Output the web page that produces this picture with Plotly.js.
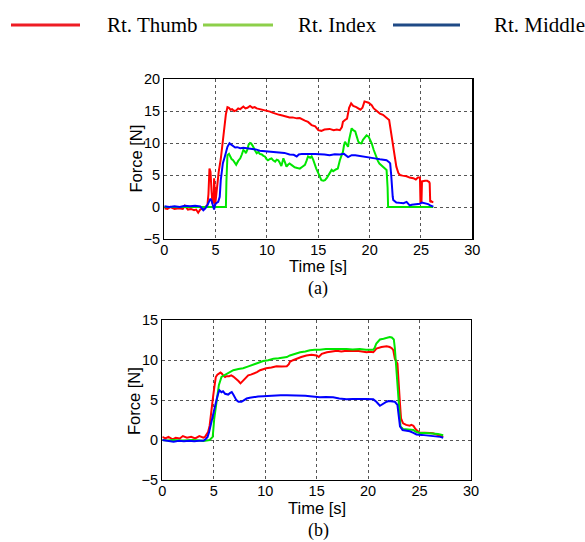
<!DOCTYPE html>
<html>
<head>
<meta charset="utf-8">
<script src="https://cdn.plot.ly/plotly-3.0.1.min.js"></script>
<style>html,body{margin:0;padding:0;background:#fff;}#chart{width:585px;height:542px;}</style>
</head>
<body>
<div id="chart"></div>
<script>
// ---------- data: [time (s), force (N)] ----------
var seriesNames = ["Rt. Thumb", "Rt. Index", "Rt. Middle"];
var panelLabels = ["(a)", "(b)"];
var xTitle = "Time [s]";
var yTitle = "Force [N]";
var xTicks = [0, 5, 10, 15, 20, 25, 30];
var yTicksA = [-5, 0, 5, 10, 15, 20];
var yTicksB = [-5, 0, 5, 10, 15];

var thumbA = [[0,-0.2],[0.3,-0.3],[0.6,0.0],[1.0,-0.3],[1.4,-0.2],[1.8,-0.3],[2.0,0.2],[2.3,-0.4],[2.6,-0.3],[2.9,-0.5],[3.1,-0.4],[3.3,-0.9],[3.5,-0.4],[3.8,-0.2],[4.0,0.0],[4.2,0.3],[4.3,2.0],[4.4,6.0],[4.5,5.5],[4.6,2.5],[4.7,0.5],[4.8,1.0],[4.85,4.5],[4.9,3.0],[4.95,0.2],[5.0,1.0],[5.1,3.0],[5.3,5.5],[5.5,7.5],[5.75,11.3],[6.0,14.5],[6.15,15.6],[6.3,15.5],[6.45,15.2],[6.6,15.3],[6.8,15.0],[7.0,15.1],[7.2,15.4],[7.4,15.3],[7.7,15.7],[7.9,15.4],[8.1,15.5],[8.35,15.8],[8.6,15.5],[8.8,15.6],[9.0,15.4],[9.3,15.3],[9.6,15.2],[10.0,15.05],[10.3,14.9],[10.6,14.7],[10.9,14.5],[11.2,14.4],[11.5,14.3],[11.9,14.1],[12.2,14.0],[12.5,14.0],[12.9,13.85],[13.2,13.9],[13.5,13.6],[13.7,13.5],[14.0,13.3],[14.35,12.8],[14.7,12.6],[15.0,12.0],[15.3,11.9],[15.6,12.1],[16.1,12.2],[16.5,12.0],[16.8,12.1],[17.1,12.0],[17.3,12.5],[17.4,13.3],[17.6,13.6],[17.8,13.8],[18.0,15.5],[18.2,16.2],[18.4,15.8],[18.7,15.6],[19.1,15.2],[19.3,15.5],[19.5,16.5],[19.7,16.4],[19.9,16.3],[20.2,15.9],[20.4,15.4],[20.7,15.0],[21.0,14.6],[21.3,14.4],[21.65,14.0],[21.9,13.6],[22.0,12.55],[22.15,11.0],[22.3,9.4],[22.45,7.5],[22.6,6.3],[22.8,5.3],[22.95,5.0],[23.2,4.9],[23.6,4.8],[23.9,4.6],[24.25,4.5],[24.5,4.3],[24.7,4.6],[24.9,4.6],[24.95,0.8],[25.05,0.8],[25.1,4.0],[25.4,4.1],[25.6,4.1],[25.8,3.9],[25.85,3.7],[25.9,0.8],[26.0,0.9],[26.2,0.7]];
var indexA = [[0,0],[6.0,0],[6.05,4],[6.15,8.1],[6.3,8.3],[6.4,7.9],[6.55,7.5],[6.7,7.3],[6.85,7.0],[7.0,6.6],[7.2,7.2],[7.4,7.6],[7.55,8.2],[7.7,8.9],[7.85,8.7],[7.95,8.4],[8.1,9.0],[8.2,9.7],[8.35,10.0],[8.45,9.95],[8.6,9.6],[8.7,9.2],[8.85,8.8],[9.0,8.4],[9.15,8.6],[9.3,8.3],[9.5,8.2],[9.65,8.0],[9.8,7.9],[9.95,7.5],[10.1,7.3],[10.3,7.5],[10.45,7.6],[10.6,7.3],[10.8,7.1],[10.95,7.4],[11.1,7.3],[11.25,6.9],[11.4,6.4],[11.5,7.0],[11.6,7.6],[11.75,7.0],[11.9,6.3],[12.05,6.6],[12.2,6.8],[12.45,6.5],[12.7,6.2],[12.95,6.1],[13.2,6.0],[13.45,6.3],[13.7,6.6],[13.85,7.2],[14.0,7.9],[14.2,7.7],[14.35,7.9],[14.5,7.4],[14.6,6.8],[14.8,6.0],[15.0,5.3],[15.15,4.7],[15.3,4.2],[15.5,4.1],[15.65,4.2],[15.85,4.6],[16.0,5.0],[16.15,5.5],[16.3,5.8],[16.45,5.6],[16.6,5.8],[16.75,5.9],[16.9,6.0],[17.0,6.8],[17.1,7.3],[17.25,8.0],[17.4,8.6],[17.5,9.6],[17.6,10.2],[17.75,9.8],[17.9,9.4],[18.0,10.5],[18.1,11.25],[18.25,12.3],[18.4,12.0],[18.6,11.8],[18.75,11.0],[18.9,10.2],[19.05,10.0],[19.2,9.95],[19.35,10.5],[19.55,11.0],[19.7,11.2],[19.9,11.0],[20.05,10.5],[20.2,9.95],[20.4,8.9],[20.6,7.9],[20.8,7.2],[20.95,6.8],[21.1,6.6],[21.3,6.3],[21.5,6.0],[21.65,5.8],[21.75,3.0],[21.8,0],[26.2,0]];
var middleA = [[0,0.1],[0.5,0.0],[1.0,0.1],[1.5,0.0],[2.0,0.2],[2.5,0.1],[3.0,0.2],[3.5,0.1],[3.8,-0.5],[4.0,-0.2],[4.2,0.3],[4.35,0.7],[4.5,1.3],[4.6,1.0],[4.7,0.3],[4.8,-0.1],[4.85,-0.4],[4.95,0.4],[5.05,0.6],[5.25,0.8],[5.4,1.6],[5.5,4.2],[5.6,5.8],[5.7,6.8],[5.9,7.9],[6.05,8.8],[6.15,9.4],[6.35,9.95],[6.55,9.7],[6.7,9.5],[6.9,9.3],[7.1,9.35],[7.4,9.2],[7.7,9.25],[8.0,9.2],[8.3,9.05],[8.5,9.0],[8.9,9.0],[9.3,8.8],[9.8,8.75],[10.3,8.65],[10.8,8.6],[11.25,8.5],[11.7,8.45],[12.2,8.2],[12.6,8.15],[12.9,7.9],[13.1,8.2],[13.4,8.3],[13.8,8.35],[14.2,8.3],[14.7,8.3],[15.2,8.3],[15.6,8.2],[16.1,8.1],[16.6,8.25],[17.1,8.2],[17.5,8.3],[17.9,7.8],[18.25,8.1],[18.6,8.1],[19.05,8.0],[19.5,7.9],[20.0,7.8],[20.5,7.6],[21.0,7.45],[21.4,7.4],[21.65,7.3],[21.9,7.0],[22.0,6.8],[22.1,5.0],[22.15,3.2],[22.25,1.6],[22.3,1.1],[22.6,0.7],[22.9,0.65],[23.3,0.6],[23.6,0.8],[23.9,0.25],[24.1,0.35],[24.4,0.4],[24.9,0.5],[25.1,0.7],[25.4,0.6],[25.7,0.45],[25.9,0.25],[26.2,0.05]];

var thumbB = [[0,0.4],[0.3,0.2],[0.6,0.4],[1.0,0.1],[1.3,0.3],[1.7,0.2],[2.0,0.5],[2.4,0.3],[2.8,0.4],[3.2,0.2],[3.6,0.5],[4.0,0.3],[4.15,0.4],[4.3,0.7],[4.45,1.0],[4.6,1.8],[4.7,2.7],[4.85,4.2],[4.95,5.6],[5.1,7.0],[5.2,7.9],[5.35,8.2],[5.45,8.3],[5.65,8.45],[5.8,8.3],[5.9,8.1],[6.1,7.9],[6.25,8.0],[6.5,8.0],[6.7,8.1],[6.9,7.95],[7.05,7.8],[7.25,7.6],[7.4,7.4],[7.6,7.1],[7.75,7.3],[7.85,7.5],[8.1,7.9],[8.35,8.1],[8.6,8.2],[8.85,8.3],[9.2,8.5],[9.5,8.75],[9.8,8.9],[10.1,9.0],[10.6,9.1],[11.1,9.25],[11.6,9.2],[12.1,9.25],[12.3,9.5],[12.4,9.8],[12.7,10.0],[13.05,10.2],[13.5,10.4],[14.0,10.6],[14.5,10.7],[15.0,10.6],[15.2,10.4],[15.5,10.8],[16.0,11.0],[16.5,11.1],[16.95,11.2],[17.4,11.1],[17.9,11.2],[18.4,11.15],[18.9,11.2],[19.4,11.1],[19.85,11.0],[20.2,11.05],[20.5,11.0],[20.65,11.2],[20.8,11.45],[21.3,11.65],[21.8,11.75],[22.1,11.65],[22.3,11.5],[22.45,11.25],[22.6,10.2],[22.85,9.6],[22.95,8.0],[23.0,6.5],[23.1,4.5],[23.2,2.7],[23.4,2.1],[23.7,1.9],[24.05,1.8],[24.2,1.9],[24.4,1.8],[24.55,1.5],[24.7,1.25],[25.0,0.95],[25.5,0.95],[26.0,0.9],[26.3,0.85],[26.65,0.7],[27.0,0.55],[27.3,0.4]];
var indexB = [[0,0.0],[0.5,-0.05],[1.0,0.0],[2.0,-0.05],[3.0,0.0],[4.0,-0.1],[4.6,0.0],[4.9,0.4],[5.05,2.7],[5.2,4.2],[5.3,5.2],[5.5,6.9],[5.75,7.9],[6.0,8.1],[6.25,8.3],[6.6,8.5],[6.9,8.75],[7.4,8.9],[7.85,9.0],[8.3,9.2],[8.85,9.45],[9.3,9.7],[9.8,9.9],[10.3,10.0],[10.8,10.2],[11.3,10.25],[11.75,10.3],[12.1,10.4],[12.4,10.6],[12.9,10.8],[13.4,11.0],[13.9,11.1],[14.35,11.25],[14.8,11.3],[15.3,11.3],[15.9,11.4],[16.6,11.45],[17.2,11.4],[17.9,11.4],[18.5,11.35],[19.2,11.4],[19.8,11.3],[20.5,11.3],[20.65,11.6],[20.8,12.1],[21.0,12.4],[21.15,12.6],[21.5,12.7],[21.8,12.8],[22.1,12.9],[22.3,12.85],[22.5,12.6],[22.6,11.5],[22.7,9.8],[22.85,6.9],[23.0,4.4],[23.15,1.7],[23.4,1.4],[23.9,1.3],[24.4,1.25],[24.7,1.0],[25.0,0.9],[25.6,0.9],[26.3,0.85],[26.8,0.75],[27.3,0.6]];
var middleB = [[0,0.0],[0.5,-0.1],[1.1,-0.2],[1.6,-0.1],[2.1,-0.15],[2.6,-0.1],[3.1,-0.15],[3.6,-0.1],[4.0,-0.1],[4.2,0.1],[4.4,0.4],[4.55,1.0],[4.7,1.9],[4.85,2.8],[4.95,3.5],[5.1,4.3],[5.3,5.2],[5.45,5.9],[5.55,6.25],[5.75,6.0],[5.9,6.1],[6.1,5.8],[6.4,5.7],[6.6,5.9],[6.75,6.0],[6.9,5.7],[7.05,5.4],[7.2,5.0],[7.4,4.8],[7.7,4.8],[7.95,5.0],[8.2,5.2],[8.5,5.3],[8.85,5.4],[9.3,5.45],[9.8,5.5],[10.3,5.55],[10.8,5.6],[11.5,5.6],[12.1,5.6],[12.8,5.6],[13.4,5.6],[13.9,5.55],[14.35,5.5],[14.8,5.4],[15.3,5.35],[15.9,5.4],[16.6,5.35],[17.2,5.2],[17.9,5.1],[18.5,5.15],[19.2,5.2],[19.8,5.15],[20.5,5.1],[20.8,4.8],[21.15,4.3],[21.5,4.6],[21.8,4.8],[22.0,4.9],[22.3,4.85],[22.6,4.8],[22.85,4.4],[23.0,2.8],[23.1,1.7],[23.35,1.25],[23.7,1.2],[24.05,1.1],[24.4,0.9],[24.7,0.7],[25.2,0.65],[25.7,0.6],[26.2,0.55],[26.65,0.5],[27.0,0.4],[27.3,0.3]];

// ---------- styling ----------
var lineColors = ["#ff0000", "#00e600", "#0000ff"];
var legendColors = ["#ee1c24", "#8dcf4a", "#1f4a86"];
var W = 585, H = 542;
var sans = "Liberation Sans, Arial, sans-serif";
var serif = "Liberation Serif, Times New Roman, serif";

function tr(data, i, xa, ya) {
  return {
    x: data.map(function (p) { return p[0]; }),
    y: data.map(function (p) { return p[1]; }),
    type: "scatter", mode: "lines", name: seriesNames[i],
    xaxis: xa, yaxis: ya, showlegend: false,
    line: { color: lineColors[i], width: 2 }
  };
}

var traces = [
  tr(thumbA, 0, "x", "y"), tr(indexA, 1, "x", "y"), tr(middleA, 2, "x", "y"),
  tr(thumbB, 0, "x2", "y2"), tr(indexB, 1, "x2", "y2"), tr(middleB, 2, "x2", "y2")
];

function baseAxis(standoff) {
  return {
    ticks: "", showline: true, mirror: true, linecolor: "#000", linewidth: 1.3,
    showgrid: true, gridcolor: "#555", gridwidth: 1, griddash: "3px,3px",
    zeroline: false, tickfont: { family: sans, size: 14.5, color: "#000" },
    ticklabelstandoff: standoff
  };
}
function xax(dom, anchor) {
  var a = baseAxis(-3);
  a.domain = dom; a.anchor = anchor; a.range = [0, 30]; a.tickvals = xTicks;
  return a;
}
function yax(dom, anchor, rng, tv) {
  var a = baseAxis(0);
  a.domain = dom; a.anchor = anchor; a.range = rng; a.tickvals = tv;
  return a;
}

var legendY = 1 - 25 / H;
var legendLines = [[11, 80], [203, 273], [393, 460]];
var legendTextX = [105, 296, 492];
var shapes = legendLines.map(function (l, i) {
  return { type: "line", xref: "paper", yref: "paper", x0: l[0] / W, x1: l[1] / W, y0: legendY, y1: legendY,
           line: { color: legendColors[i], width: 3 } };
});
var annotations = legendTextX.map(function (x, i) {
  return { xref: "paper", yref: "paper", x: x / W, y: legendY, xanchor: "left", yanchor: "middle",
           text: seriesNames[i], showarrow: false, font: { family: serif, size: 21, color: "#000" } };
});
function note(text, px, py, font, angle) {
  return { xref: "paper", yref: "paper", x: px / W, y: 1 - py / H, xanchor: "center", yanchor: "middle",
           text: text, showarrow: false, textangle: angle || 0, font: font };
}
var capFont = { family: serif, size: 18, color: "#000" };
var titleFont = { family: sans, size: 16.5, color: "#000" };
annotations.push(note(panelLabels[0], 318, 288, capFont));
annotations.push(note(panelLabels[1], 318, 530, capFont));
annotations.push(note(xTitle, 318.3, 266, titleFont));
annotations.push(note(xTitle, 316.6, 508, titleFont));
annotations.push(note(yTitle, 135.5, 159, titleFont, -90));
annotations.push(note(yTitle, 134, 401, titleFont, -90));

var layout = {
  width: W, height: H, autosize: false,
  margin: { l: 0, r: 0, t: 0, b: 0, pad: 0 },
  paper_bgcolor: "#fff", plot_bgcolor: "#fff",
  showlegend: false,
  xaxis: xax([164.3 / W, 472.3 / W], "y"),
  yaxis: yax([1 - 239 / H, 1 - 79 / H], "x", [-5, 20], yTicksA),
  xaxis2: xax([162.3 / W, 471 / W], "y2"),
  yaxis2: yax([1 - 480 / H, 1 - 320.3 / H], "x2", [-5, 15], yTicksB),
  shapes: shapes,
  annotations: annotations
};

Plotly.newPlot("chart", traces, layout, { staticPlot: true, displayModeBar: false });
</script>
</body>
</html>
